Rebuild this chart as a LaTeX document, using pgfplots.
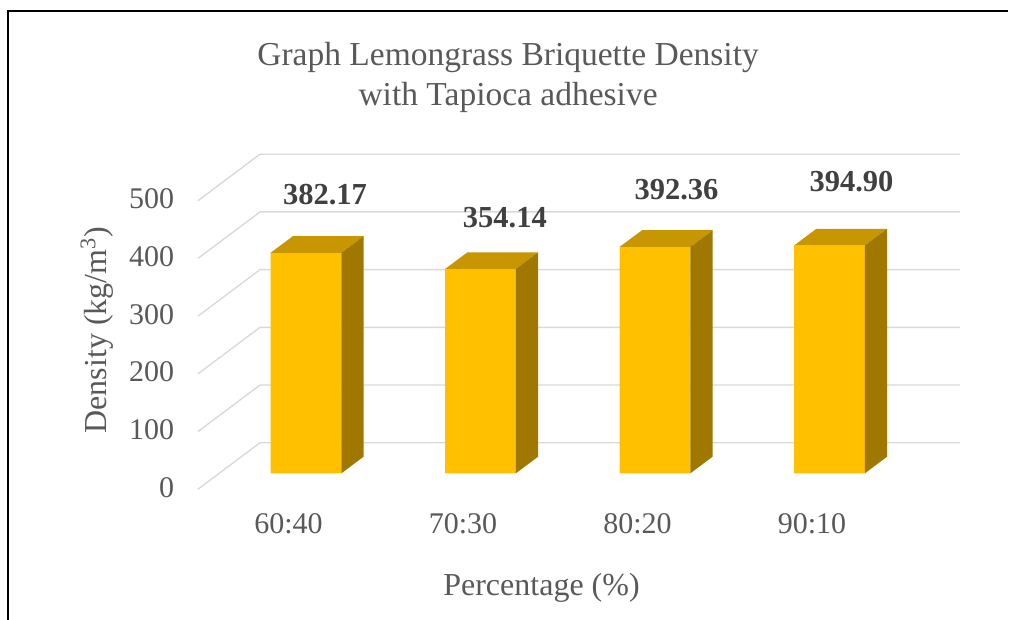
\documentclass[border=0pt]{standalone}
\usepackage{pgfplots}
\pgfplotsset{compat=1.18}
\usepackage{fontspec}
\setmainfont{Liberation Serif}
\definecolor{gridc}{HTML}{D9D9D9}
\definecolor{textgray}{HTML}{595959}
\definecolor{labeldark}{HTML}{404040}
\definecolor{barfront}{HTML}{FFC000}
\definecolor{bartop}{HTML}{C89600}
\definecolor{barside}{HTML}{A07800}
\begin{document}
\begin{tikzpicture}
\begin{axis}[
  x=69.8pt, y=0.2308pt,
  xmin=-0.6195, xmax=3.748, ymin=-27.7, ymax=553,
  clip=false,
  axis line style={draw=none},
  major tick length=0pt,
  /pgf/number format/assume math mode=true,
  ytick={-27.7,72.3,172.3,272.3,372.3,472.3},
  yticklabels={0,100,200,300,400,500},
  xtick={-0.1,0.9,1.9,2.9},
  xticklabels={60:40,70:30,80:20,90:10},
  ticklabel style={font=\fontsize{12}{14}\selectfont, text=textgray},
  yticklabel style={xshift=-6pt, yshift=0.8pt},
  xticklabel style={yshift=-6.2pt},
  xlabel={Percentage (\%)},
  xlabel style={at={(axis cs:1.3496,-198.8)}, anchor=center, font=\fontsize{12.8}{15}\selectfont, text=textgray},
  ylabel={Density (kg/m\textsuperscript{3})},
  ylabel style={at={(axis cs:-1.198,248.4)}, anchor=center, font=\fontsize{12.8}{15}\selectfont, text=textgray},
  title={Graph Lemongrass Briquette Density\\with Tapioca adhesive},
  title style={align=center, at={(axis cs:1.158,660.8)}, anchor=center, font=\fontsize{13.4}{16}\selectfont, text=textgray},
]
% gridlines: left wall (slanted) and back wall (horizontal)
\addplot[gridc, line width=0.55pt, mark=none] coordinates {(-0.6195,-27.7) (-0.2636,53) (3.748,53)};
\addplot[gridc, line width=0.55pt, mark=none] coordinates {(-0.6195,72.3) (-0.2636,153) (3.748,153)};
\addplot[gridc, line width=0.55pt, mark=none] coordinates {(-0.6195,172.3) (-0.2636,253) (3.748,253)};
\addplot[gridc, line width=0.55pt, mark=none] coordinates {(-0.6195,272.3) (-0.2636,353) (3.748,353)};
\addplot[gridc, line width=0.55pt, mark=none] coordinates {(-0.6195,372.3) (-0.2636,453) (3.748,453)};
\addplot[gridc, line width=0.55pt, mark=none] coordinates {(-0.6195,472.3) (-0.2636,553) (3.748,553)};
% bar front faces
\addplot[ybar, bar width=0.4052, bar shift=0pt, fill=barfront, draw=none]
  coordinates {(0,382.17) (1,354.14) (2,392.36) (3,394.90)};
% 3D top and side faces
\foreach \i/\v in {0/382.17,1/354.14,2/392.36,3/394.90}{
  \pgfmathsetmacro\xl{\i-0.2026}
  \pgfmathsetmacro\xr{\i+0.2026}
  \pgfmathsetmacro\xbr{\i+0.2026+0.1278}
  \pgfmathsetmacro\xbl{\i-0.2026+0.1278}
  \pgfmathsetmacro\vt{\v+28.9}
  \edef\temp{%
    \noexpand\addplot[fill=bartop, draw=none, mark=none] coordinates {(\xl,\v) (\xr,\v) (\xbr,\vt) (\xbl,\vt) (\xl,\v)};
    \noexpand\addplot[fill=barside, draw=none, mark=none] coordinates {(\xr,0) (\xbr,28.9) (\xbr,\vt) (\xr,\v) (\xr,0)};
  }\temp
}
% data labels
\addplot[draw=none, mark=none, nodes near coords, point meta=explicit symbolic,
  nodes near coords style={anchor=center, font=\bfseries\fontsize{12.2}{14}\selectfont, text=labeldark}]
  table[meta=lab] {
x y lab
0.109 482.3 382.17
1.140 442.5 354.14
2.123 491.0 392.36
3.126 505.4 394.90
};
% frame
\draw[black, line width=0.8pt] (axis cs:-1.705,-254.2) -- (axis cs:-1.705,801.2) -- (axis cs:4.023,801.2);
\coordinate (BL) at (axis cs:-1.7536,-254.2);
\coordinate (TR) at (axis cs:4.0802,820.3);
\end{axis}
\pgfresetboundingbox
\path[use as bounding box] (BL) rectangle (TR);
\end{tikzpicture}
\end{document}
